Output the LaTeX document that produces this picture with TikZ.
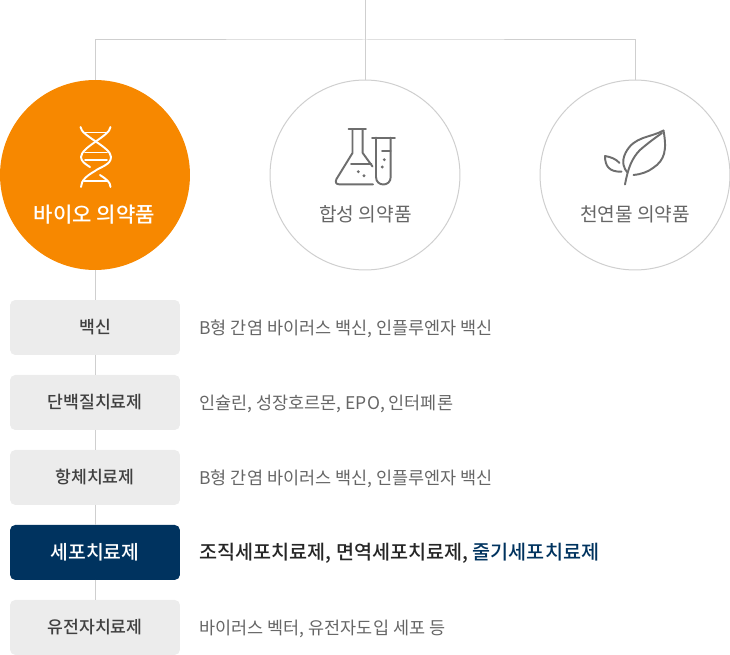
\documentclass[tikz,border=0pt]{standalone}
\usepackage{fontspec}
\setmainfont{Noto Sans CJK KR}[BoldFont={Noto Sans CJK KR Medium}]
\usetikzlibrary{positioning}
\definecolor{bioorange}{HTML}{F78800}
\definecolor{cellnavy}{HTML}{00335F}
\definecolor{boxgray}{HTML}{ECECEC}
\definecolor{linegray}{HTML}{CFCFCF}
\definecolor{icongray}{HTML}{6E6E6E}
\definecolor{textgray}{HTML}{666666}

\begin{document}
\begin{tikzpicture}[
    x=0.02cm, y=-0.02cm,
    node distance=0.4cm,
    outer sep=0pt,
    line/.style={draw=linegray, line width=0.57pt},
    class/.style={draw=linegray, line width=0.57pt, circle, minimum size=3.8cm, inner sep=0pt, fill=white},
    classname/.style={font=\fontsize{10.9}{13}\selectfont, text=textgray, inner sep=0pt},
    drug/.style={rectangle, rounded corners=3pt, minimum width=3.4cm, minimum height=1.1cm, inner sep=0pt, fill=boxgray, font=\fontsize{9.8}{12}\selectfont\bfseries, text=black!75},
    usage/.style={right=0.39cm of #1, yshift=-0.02cm, font=\fontsize{9.95}{12}\selectfont, text=textgray, inner sep=0pt},
    icon/.style={line width=1.1pt, draw=icongray, line cap=round, line join=round},
    dot/.style={fill=icongray, draw=none},
]
    \useasboundingbox (0,0) rectangle (730,655);

    \node [class, fill=bioorange, draw=none] (bio) at (95,175) {};
    \node [class] (synth) at (365,175) {};
    \node [class] (nature) at (635,175) {};

    \coordinate (top) at (365,0);
    \coordinate (bar) at (365,40);
    \draw [line] (top) -- (synth);
    \draw [line] (bio) |- (bar) -| (nature);

    \node [classname, text=white, font=\fontsize{12}{14}\selectfont\bfseries] (bioname) at (94.5,214.5) {바이오 의약품};
    \node [classname] (synthname) at (365.5,214.5) {합성 의약품};
    \node [classname] (naturename) at (635,214.5) {천연물 의약품};

    \node [drug] (vaccine) at (95,327.5) {백신};
    \node [drug, below=of vaccine] (protein) {단백질치료제};
    \node [drug, below=of protein] (antibody) {항체치료제};
    \node [drug, below=of antibody, fill=cellnavy, text=white, font=\fontsize{11}{13}\selectfont\bfseries] (cell) {세포치료제};
    \node [drug, below=of cell] (gene) {유전자치료제};

    \draw [line] (bio) -- (vaccine);
    \draw [line] (vaccine) -- (protein);
    \draw [line] (protein) -- (antibody);
    \draw [line] (antibody) -- (cell);
    \draw [line] (cell) -- (gene);

    \node [usage=vaccine] (vaccineuse) {B형 간염 바이러스 백신, 인플루엔자 백신};
    \node [usage=protein] (proteinuse) {인슐린, 성장호르몬, EPO, 인터페론};
    \node [usage=antibody] (antibodyuse) {B형 간염 바이러스 백신, 인플루엔자 백신};
    \node [usage=cell, font=\fontsize{11.17}{13}\selectfont\bfseries, text=black!85] (celluse) {조직세포치료제, 면역세포치료제, \textcolor{cellnavy}{줄기세포치료제}};
    \node [usage=gene] (geneuse) {바이러스 벡터, 유전자도입 세포 등};

    % dna
    \draw [icon, draw=white] (80.5,127) .. controls (81,136) and (111,147) .. (111,157) .. controls (111,165) and (100,167) .. (95,171) .. controls (88,175) and (81,180) .. (81,187);
    \draw [icon, draw=white] (110.5,127) .. controls (110,136) and (81,147) .. (81,157) .. controls (81,161) and (85,164) .. (90,167);
    \draw [icon, draw=white] (100,175) .. controls (106,179) and (110.5,182) .. (110.5,187);
    \draw [icon, draw=white] (84,132.5) -- (107,132.5);
    \draw [icon, draw=white] (85,152.5) -- (107,152.5);
    \draw [icon, draw=white] (85,160) -- (107,160);
    \draw [icon, draw=white] (84,181) -- (107,181);

    % flask
    \draw [icon] (348.5,129.3) -- (366,129.3);
    \draw [icon] (352.5,129.3) -- (352.5,153) -- (336.5,179) .. controls (335,182) and (336,184.3) .. (339,184.3) -- (373,184.3);
    \draw [icon] (362.7,129.3) -- (362.7,153) -- (372.5,166.5);
    \draw [icon] (351,164) -- (371.5,164);
    \fill [dot] (358.3,171.7) circle (1.6);
    \fill [dot] (364,175.7) circle (1.6);
    \draw [icon] (372,137.7) -- (395,137.7);
    \draw [icon] (376,137.7) -- (376,177) .. controls (376,187) and (390.7,187) .. (390.7,177) -- (390.7,137.7);
    \draw [icon] (382,151) -- (390.7,151);
    \fill [dot] (384.3,159.7) circle (1.6);
    \fill [dot] (382.3,167) circle (1.6);

    % leaf
    \draw [icon] (663.5,130.5) .. controls (650,138) and (634,136) .. (625.5,153) .. controls (621,162) and (624,169) .. (627.5,172.5);
    \draw [icon] (663.5,130.5) .. controls (667,150) and (665,160) .. (653,168) .. controls (648,172) and (640,174.5) .. (633.5,175);
    \draw [icon] (625,184.5) .. controls (628,168) and (632,158) .. (640,150) .. controls (648,143) and (655,138) .. (662,133);
    \draw [icon] (605,156) .. controls (611,157) and (616,159) .. (619.5,163);
    \draw [icon] (605,156) .. controls (605,166) and (609,172) .. (621.5,171.7);
\end{tikzpicture}
\end{document}
